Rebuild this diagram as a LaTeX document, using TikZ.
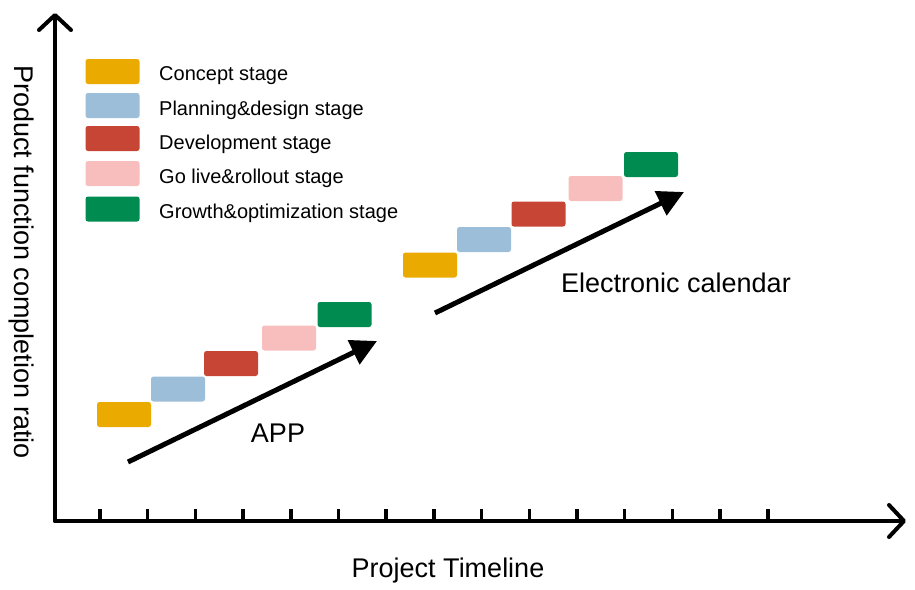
\documentclass[tikz,border=0pt]{standalone}
\usepackage{fontspec}
\setmainfont{Liberation Sans}
\usetikzlibrary{arrows.meta}
\definecolor{cConcept}{RGB}{235,170,0}
\definecolor{cPlan}{RGB}{157,190,216}
\definecolor{cDev}{RGB}{198,69,53}
\definecolor{cLive}{RGB}{248,190,190}
\definecolor{cGrow}{RGB}{0,140,80}
\tikzset{
  stagebox/.style={rectangle, rounded corners=2.5pt, minimum width=54pt, minimum height=25pt, inner sep=0pt, draw=none},
  legtext/.style={anchor=base west, inner sep=0pt, font=\fontsize{20}{24}\selectfont},
  biglabel/.style={inner sep=0pt, font=\fontsize{27}{32}\selectfont},
  axisline/.style={line width=4pt, line cap=round, line join=round},
  ticklin/.style={line width=3.5pt},
  trend/.style={line width=5pt, -{Triangle[length=26pt,width=26pt]}}
}
\begin{document}
\begin{tikzpicture}[x=1pt,y=-1pt]
\useasboundingbox (0,0) rectangle (915,589);
% axes
\coordinate (O) at (55,521);
\coordinate (Ytop) at (55,13);
\coordinate (Xend) at (906,521);
\draw[axisline, -{Straight Barb[length=15pt,width=32pt,line width=4pt,round]}] (O) -- (Ytop);
\draw[axisline, -{Straight Barb[length=15pt,width=32pt,line width=4pt,round]}] (O) -- (Xend);
% ticks
\foreach \i in {0,...,14}{
  \draw[ticklin] ({100+\i*47.7},521) -- ({100+\i*47.7},509);
}
% axis labels
\node[biglabel, rotate=-90] (ylab) at (21,262) {Product function completion ratio};
\node[biglabel] (xlab) at (448,571) {Project Timeline};
% legend
\node[stagebox, fill=cConcept] (l1) at (112.5,71.5) {};
\node[stagebox, fill=cPlan]    (l2) at (112.5,105.5) {};
\node[stagebox, fill=cDev]     (l3) at (112.5,138.5) {};
\node[stagebox, fill=cLive]    (l4) at (112.5,173.5) {};
\node[stagebox, fill=cGrow]    (l5) at (112.5,209) {};
\node[legtext] (t1) at (159,80.5) {Concept stage};
\node[legtext] (t2) at (159,115) {Planning\&design stage};
\node[legtext] (t3) at (159,149) {Development stage};
\node[legtext] (t4) at (159,183.5) {Go live\&rollout stage};
\node[legtext] (t5) at (159,218.5) {Growth\&optimization stage};
% APP stages
\node[stagebox, fill=cConcept] (a1) at (124,414.5) {};
\node[stagebox, fill=cPlan]    (a2) at (178,389) {};
\node[stagebox, fill=cDev]     (a3) at (231,363.5) {};
\node[stagebox, fill=cLive]    (a4) at (289,338) {};
\node[stagebox, fill=cGrow]    (a5) at (344.5,314.5) {};
\coordinate (as) at (128,462);
\coordinate (ae) at (377,341);
\draw[trend] (as) -- (ae);
\node[biglabel] (app) at (278,433) {APP};
% Electronic calendar stages
\node[stagebox, fill=cConcept] (e1) at (430,265) {};
\node[stagebox, fill=cPlan]    (e2) at (484,239.5) {};
\node[stagebox, fill=cDev]     (e3) at (538.5,214) {};
\node[stagebox, fill=cLive]    (e4) at (595.5,188.5) {};
\node[stagebox, fill=cGrow]    (e5) at (651,164.5) {};
\coordinate (es) at (435,313);
\coordinate (ee) at (684,192);
\draw[trend] (es) -- (ee);
\node[biglabel] (ecal) at (676,283) {Electronic calendar};
\end{tikzpicture}
\end{document}
